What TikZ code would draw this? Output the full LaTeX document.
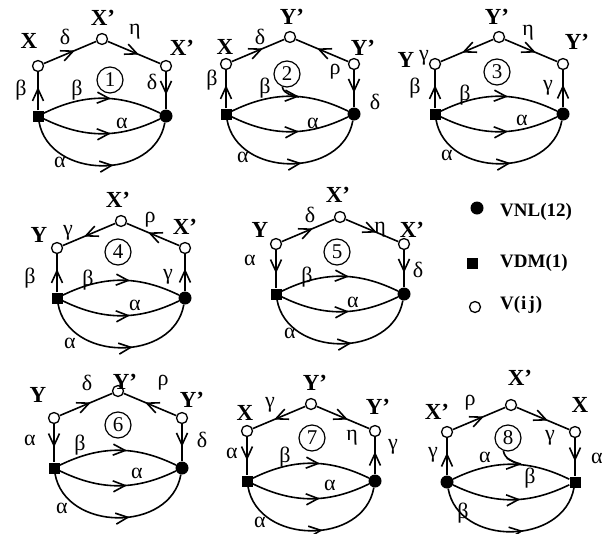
\documentclass[tikz,border=0pt]{standalone}
\usepackage{fontspec}
\setmainfont{Liberation Serif}
\usetikzlibrary{decorations.markings}

\tikzset{
  edge/.style={line width=1.6pt},
  flow/.style={edge, postaction={decorate},
    decoration={markings, mark=at position #1 with
      {\draw[edge, line join=miter] (-12pt,5.5pt) -- (0pt,0pt) -- (-12pt,-5.5pt);}}},
  flow/.default=0.56,
  vij/.style={circle, draw, fill=white, line width=1.3pt, minimum size=11pt, inner sep=0pt},
  vnl/.style={circle, fill=black, minimum size=13pt, inner sep=0pt},
  vdm/.style={rectangle, fill=black, minimum size=11pt, inner sep=0pt},
  num/.style={circle, draw, line width=1.2pt, minimum size=26pt, inner sep=0pt,
    font=\fontsize{21}{23}\selectfont},
  gk/.style={font=\fontsize{22}{24}\selectfont, inner sep=0pt},
  vr/.style={font=\fontsize{23}{25}\selectfont\bfseries, inner sep=0pt},
  leg/.style={font=\fontsize{19}{21}\selectfont\bfseries, inner sep=0pt, anchor=west},
}

% skeleton of one graph: five vertices and the three arcs between the lower two
% #1 name prefix, #2 style of lower-left vertex, #3 style of lower-right vertex
\newcommand\skeleton[3]{%
  \node[#2]  (#1A) at (0,0) {};
  \node[vij] (#1L) at (0,-50) {};
  \node[vij] (#1T) at (64,-77) {};
  \node[vij] (#1R) at (128,-50) {};
  \node[#3]  (#1B) at (128,0) {};
  \draw[flow] (#1A) to[bend left=26] (#1B);
  \draw[flow] (#1A) to[bend right=26] (#1B);
  \draw[flow] (#1A) to[out=-80,in=-100,looseness=1.2] (#1B);
}

\begin{document}
\begin{tikzpicture}[x=1pt,y=-1pt]
\useasboundingbox (0,0) rectangle (605,533);

% ---------- graph 1 ----------
\begin{scope}[shift={(38,116)}]
  \skeleton{a}{vdm}{vnl}
  \draw[flow] (aA) -- (aL);
  \draw[flow] (aL) -- (aT);
  \draw[flow] (aT) -- (aR);
  \draw[flow] (aR) -- (aB);
  \node[vr] (a1) at (-9,-75) {X};
  \node[vr] (a2) at (65,-98) {X’};
  \node[vr] (a3) at (144,-68) {X’};
  \node[gk] (a4) at (27,-79) {δ};
  \node[gk] (a5) at (97,-84) {η};
  \node[gk] (a6) at (-17,-26) {β};
  \node[gk] (a7) at (39,-26) {β};
  \node[gk] (a8) at (114,-34) {δ};
  \node[gk] (a9) at (84,7) {α};
  \node[gk] (a10) at (22,46) {α};
  \node[num] (an) at (72,-36) {1};
\end{scope}

% ---------- graph 2 ----------
\begin{scope}[shift={(226,114)}]
  \skeleton{b}{vdm}{vnl}
  \draw[flow] (bA) -- (bL);
  \draw[flow] (bL) -- (bT);
  \draw[flow] (bR) -- (bT);
  \draw[flow] (bR) -- (bB);
  \node[vr] (b1) at (-1,-67) {X};
  \node[vr] (b2) at (66,-97) {Y’};
  \node[vr] (b3) at (137,-66) {Y’};
  \node[gk] (b4) at (34,-77) {δ};
  \node[gk] (b5) at (109,-42) {ρ};
  \node[gk] (b6) at (-14,-34) {β};
  \node[gk] (b7) at (39,-26) {β};
  \node[gk] (b8) at (149,-12) {δ};
  \node[gk] (b9) at (87,9) {α};
  \node[gk] (b10) at (17,43) {α};
  \node[num] (bn) at (61,-40) {2};
  \coordinate (bt) at (73,-17);
  \draw[edge] (bn.250) to[out=-80,in=165] (bt);
\end{scope}

% ---------- graph 3 ----------
\begin{scope}[shift={(435,114)}]
  \skeleton{c}{vdm}{vnl}
  \draw[flow] (cA) -- (cL);
  \draw[flow] (cT) -- (cL);
  \draw[flow] (cT) -- (cR);
  \draw[flow] (cB) -- (cR);
  \node[vr] (c1) at (-29,-54) {Y};
  \node[gk] (c2) at (-11,-56) {γ};
  \node[vr] (c3) at (62,-97) {Y’};
  \node[vr] (c4) at (142,-72) {Y’};
  \node[gk] (c5) at (93,-81) {η};
  \node[gk] (c6) at (-20,-26) {β};
  \node[gk] (c7) at (30,-19) {β};
  \node[gk] (c8) at (113,-26) {γ};
  \node[gk] (c9) at (87,6) {α};
  \node[gk] (c10) at (12,41) {α};
  \node[num] (cn) at (62,-42) {3};
\end{scope}

% ---------- graph 4 ----------
\begin{scope}[shift={(57,298)}]
  \skeleton{d}{vdm}{vnl}
  \draw[flow] (dA) -- (dL);
  \draw[flow] (dT) -- (dL);
  \draw[flow] (dR) -- (dT);
  \draw[flow] (dB) -- (dR);
  \node[vr] (d1) at (-18,-63) {Y};
  \node[gk] (d2) at (11,-65) {γ};
  \node[vr] (d3) at (61,-98) {X’};
  \node[gk] (d4) at (93,-78) {ρ};
  \node[vr] (d5) at (128,-71) {X’};
  \node[gk] (d6) at (-27,-20) {β};
  \node[gk] (d7) at (31,-18) {β};
  \node[gk] (d8) at (111,-21) {γ};
  \node[gk] (d9) at (78,7) {α};
  \node[gk] (d10) at (13,45) {α};
  \node[num] (dn) at (61,-46) {4};
\end{scope}

% ---------- graph 5 ----------
\begin{scope}[shift={(276,294)}]
  \skeleton{e}{vdm}{vnl}
  \draw[flow] (eL) -- (eA);
  \draw[flow] (eL) -- (eT);
  \draw[flow] (eT) -- (eR);
  \draw[flow] (eR) -- (eB);
  \node[vr] (e1) at (-16,-64) {Y};
  \node[gk] (e2) at (34,-79) {δ};
  \node[vr] (e3) at (62,-99) {X’};
  \node[gk] (e4) at (104,-64) {η};
  \node[vr] (e5) at (136,-64) {X’};
  \node[gk] (e6) at (-26,-34) {α};
  \node[gk] (e7) at (31,-17) {β};
  \node[gk] (e8) at (142,-24) {δ};
  \node[gk] (e9) at (77,8) {α};
  \node[gk] (e10) at (14,39) {α};
  \node[num] (en) at (61,-42) {5};
\end{scope}

% ---------- legend ----------
\node[vnl] (k1) at (477,208) {};
\node[leg] (k1t) at (500,212) {VNL(12)};
\node[vdm] (k2) at (472,263) {};
\node[leg] (k2t) at (500,263) {VDM(1)};
\node[vij] (k3) at (475,307) {};
\node[leg] (k3t) at (500,305) {V(\kern1pt i\kern2pt j\kern1pt)};

% ---------- graph 6 ----------
\begin{scope}[shift={(54,468)}]
  \skeleton{f}{vdm}{vnl}
  \draw[flow] (fL) -- (fA);
  \draw[flow] (fL) -- (fT);
  \draw[flow] (fR) -- (fT);
  \draw[flow] (fR) -- (fB);
  \node[vr] (f1) at (-16,-73) {Y};
  \node[gk] (f2) at (33,-85) {δ};
  \node[vr] (f3) at (71,-86) {Y’};
  \node[gk] (f4) at (109,-85) {ρ};
  \node[vr] (f5) at (138,-68) {Y’};
  \node[gk] (f6) at (-24,-28) {α};
  \node[gk] (f7) at (26,-23) {β};
  \node[gk] (f8) at (148,-28) {δ};
  \node[gk] (f9) at (83,5) {α};
  \node[gk] (f10) at (8,40) {α};
  \node[num] (fn) at (64,-43) {6};
\end{scope}

% ---------- graph 7 ----------
\begin{scope}[shift={(247,481)}]
  \skeleton{g}{vdm}{vnl}
  \draw[flow] (gL) -- (gA);
  \draw[flow] (gT) -- (gL);
  \draw[flow] (gT) -- (gR);
  \draw[flow] (gB) -- (gR);
  \node[vr] (g1) at (-2,-68) {X};
  \node[gk] (g2) at (23,-76) {γ};
  \node[vr] (g3) at (68,-98) {Y’};
  \node[vr] (g4) at (131,-74) {Y’};
  \node[gk] (g5) at (105,-43) {η};
  \node[gk] (g6) at (146,-34) {γ};
  \node[gk] (g7) at (-15,-28) {α};
  \node[gk] (g8) at (38,-24) {β};
  \node[gk] (g9) at (83,4) {α};
  \node[gk] (g10) at (13,41) {α};
  \node[num] (gn) at (65,-43) {7};
\end{scope}

% ---------- graph 8 ----------
\begin{scope}[shift={(447,482)}]
  \skeleton{h}{vnl}{vdm}
  \draw[flow] (hA) -- (hL);
  \draw[flow] (hL) -- (hT);
  \draw[flow] (hT) -- (hR);
  \draw[flow] (hR) -- (hB);
  \node[vr] (h1) at (-10,-70) {X’};
  \node[gk] (h2) at (23,-79) {ρ};
  \node[vr] (h3) at (73,-104) {X’};
  \node[vr] (h4) at (133,-77) {X};
  \node[gk] (h5) at (103,-44) {γ};
  \node[gk] (h6) at (-14,-27) {γ};
  \node[gk] (h7) at (38,-25) {α};
  \node[gk] (h8) at (150,-24) {α};
  \node[gk] (h9) at (83,-4) {β};
  \node[gk] (h10) at (16,31) {β};
  \node[num] (hn) at (61,-44) {8};
  \coordinate (ht) at (74,-18);
  \draw[edge] (hn.250) to[out=-80,in=165] (ht);
\end{scope}
\end{tikzpicture}
\end{document}
